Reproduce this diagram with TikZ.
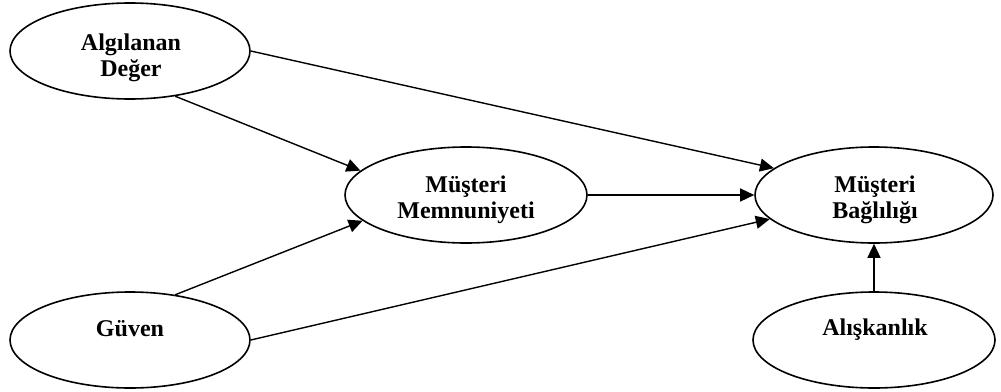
\documentclass[tikz,border=0pt]{standalone}
\usepackage{fontspec}
\setmainfont{Liberation Serif}
\usetikzlibrary{shapes.geometric,arrows.meta}
\begin{document}
\begin{tikzpicture}[x=0.5pt,y=-0.5pt,
  construct/.style={ellipse,draw,line width=0.8pt,inner sep=0pt,
    minimum width=120pt,minimum height=48pt},
  caption/.style={anchor=base,inner sep=0pt,align=center,
    font=\bfseries\fontsize{12}{12.8}\selectfont},
  link/.style={line width=0.7pt,-{Triangle[length=7pt,width=6.5pt]}}]
  \useasboundingbox (0,0) rectangle (1001,391);

  % constructs
  \node[construct] (ad) at (130,51) {};
  \node[construct,minimum width=121pt] (mm) at (466,195) {};
  \node[construct,minimum width=119pt] (mb) at (874,195) {};
  \node[construct] (gv) at (130,340) {};
  \node[construct,minimum width=121pt] (ak) at (874,340) {};

  % construct names (base = baseline of the last line)
  \node[caption] (adt) at (131,76) {Algılanan\\Değer};
  \node[caption] (mmt) at (466,218) {Müşteri\\Memnuniyeti};
  \node[caption] (mbt) at (875,218) {Müşteri\\Bağlılığı};
  \node[caption] (gvt) at (130,336) {Güven};
  \node[caption] (akt) at (875,335) {Alışkanlık};

  % relations
  \draw[link] (ad.east) -- (mb.165);
  \draw[link] (ad.-45) -- (mm.167);
  \draw[link] (mm.east) -- (mb.west);
  \draw[link] (gv.45) -- (mm.194);
  \draw[link] (gv.east) -- (mb.193);
  \draw[link] (ak.north) -- (mb.south);
\end{tikzpicture}
\end{document}
